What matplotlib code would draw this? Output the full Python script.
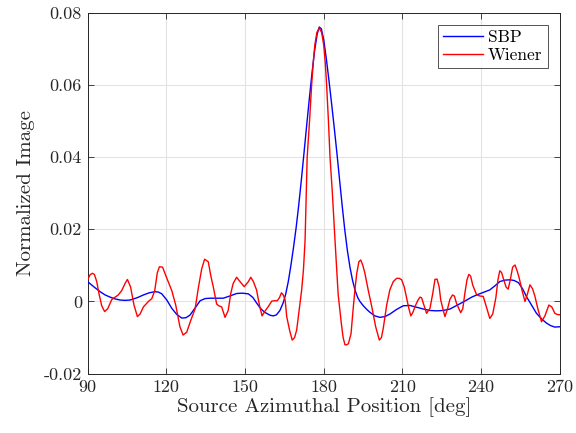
import numpy as np
import matplotlib
matplotlib.use("Agg")
import matplotlib.pyplot as plt

plt.rcParams["font.family"] = ["cmr10", "DejaVu Serif"]
plt.rcParams["axes.unicode_minus"] = False
plt.rcParams["axes.formatter.use_mathtext"] = True

# SBP (blue) - angle [deg], normalized image
sbp_deg = [90, 92.5, 94.8, 96.7, 98.6, 100.5, 102.4, 104.3, 106.2, 108.8, 111.3, 113.5,
           115.7, 117.0, 118.3, 120.2, 122.1, 124.0, 125.9, 127.5, 129.0, 131.0, 132.9,
           134.8, 136.7, 139.2, 141.7, 144.2, 146.8, 149.0, 151.3, 153.0, 154.5, 156.0,
           157.5, 159.5, 160.8, 162.0, 163.3, 164.6, 165.5, 166.5, 167.5, 168.5, 169.5,
           170.5, 171.5, 172.5, 173.5, 174.5, 175.5, 176.5, 177.5, 178.3, 179.1, 180.0,
           181.0, 182.0, 183.0, 184.0, 185.0, 186.0, 187.0, 188.0, 189.0, 190.0, 191.0,
           192.0, 193.0, 193.8, 195.1, 196.4, 197.6, 199.5, 201.4, 203.3, 205.2, 207.8,
           210.3, 212.8, 215.4, 218.0, 220.5, 223.0, 225.5, 228.1, 229.4, 232.0, 234.5,
           236.4, 238.3, 240.8, 243.3, 245.2, 247.1, 249.0, 251.0, 252.6, 254.2, 255.8,
           257.3, 259.2, 261.1, 263.0, 264.9, 266.5, 268.1, 270.0]
sbp_val = [0.0055, 0.0040, 0.0027, 0.0018, 0.0012, 0.0007, 0.0004, 0.0003, 0.0004, 0.0010, 0.0018, 0.0024,
           0.0027, 0.0026, 0.0021, 0.0004, -0.0019, -0.0036, -0.0046, -0.0045, -0.0038, -0.0018, 0.0002,
           0.0008, 0.0009, 0.0009, 0.0009, 0.0015, 0.0022, 0.0023, 0.0021, 0.0011, -0.0005, -0.0020,
           -0.0030, -0.0038, -0.0040, -0.0037, -0.0025, -0.0003, 0.0020, 0.0055, 0.0100, 0.0150, 0.0205,
           0.0268, 0.0338, 0.0412, 0.0487, 0.0560, 0.0630, 0.0693, 0.0740, 0.0760, 0.0755, 0.0725,
           0.0672, 0.0612, 0.0548, 0.0482, 0.0413, 0.0340, 0.0268, 0.0200, 0.0142, 0.0095, 0.0058,
           0.0030, 0.0010, 0.0000, -0.0012, -0.0022, -0.0030, -0.0040, -0.0044, -0.0042, -0.0035, -0.0022,
           -0.0012, -0.0011, -0.0016, -0.0021, -0.0025, -0.0026, -0.0025, -0.0021, -0.0016, -0.0006, 0.0004,
           0.0012, 0.0018, 0.0025, 0.0032, 0.0043, 0.0055, 0.0059, 0.0060, 0.0058, 0.0052, 0.0035,
           0.0013, -0.0010, -0.0033, -0.0048, -0.0060, -0.0067, -0.0071, -0.0070]

# Wiener (red) - angle [deg], normalized image
wiener_deg = [90, 91.0, 91.8, 92.6, 93.5, 94.4, 95.4, 96.5, 97.7, 99.2, 100.5, 101.7, 103.0,
              104.3, 105.2, 106.4, 107.7, 109.0, 110.0, 111.3, 113.2, 114.5, 115.6, 116.6,
              117.4, 118.6, 119.9, 121.0, 122.1, 123.6, 125.2, 126.4, 127.8, 129.4, 131.0,
              132.3, 133.5, 134.6, 136.0, 137.0, 137.9, 139.2, 140.0, 141.1, 142.4, 143.6,
              144.6, 145.5, 146.8, 148.1, 149.7, 151.3, 152.2, 153.2, 154.4, 155.5, 156.5,
              157.6, 158.9, 160.2, 161.4, 162.3, 163.1, 163.9, 164.6, 165.3, 165.9, 167.0,
              168.0, 168.9, 169.7, 170.7, 171.6, 172.3, 172.9, 173.7, 174.6, 175.4, 176.0,
              176.6, 177.4, 178.3, 179.2, 180.0, 180.6, 181.1, 181.8, 182.4, 183.3, 184.3,
              185.5, 186.7, 187.4, 188.1, 188.8, 189.4, 190.4, 191.3, 192.0, 192.6, 193.4,
              194.1, 194.9, 195.7, 197.0, 198.3, 199.8, 201.2, 202.0, 202.7, 204.0, 205.2,
              206.5, 207.8, 208.8, 209.7, 210.7, 211.6, 212.4, 213.2, 214.0, 214.8, 215.8,
              216.7, 217.3, 218.2, 219.2, 220.5, 221.5, 222.4, 223.2, 224.0, 224.6, 225.4,
              226.2, 227.2, 228.1, 229.1, 229.8, 230.6, 231.4, 232.2, 233.0, 233.8, 234.6,
              235.3, 236.0, 236.8, 238.3, 239.6, 240.8, 242.0, 243.3, 244.4, 245.6, 246.4,
              247.1, 247.8, 248.6, 249.5, 250.3, 251.1, 252.0, 252.9, 253.7, 254.5, 255.6,
              256.7, 257.6, 258.6, 259.6, 260.5, 261.6, 263.0, 264.3, 265.8, 266.9, 268.1,
              269.0, 270.0]
wiener_val = [0.0060, 0.0074, 0.0078, 0.0075, 0.0055, 0.0020, -0.0012, -0.0028, -0.0020, 0.0005, 0.0012, 0.0018, 0.0030,
              0.0050, 0.0061, 0.0040, -0.0010, -0.0042, -0.0035, -0.0015, 0.0000, 0.0008, 0.0030, 0.0080,
              0.0096, 0.0095, 0.0070, 0.0050, 0.0030, -0.0010, -0.0070, -0.0093, -0.0085, -0.0051, -0.0020,
              0.0041, 0.0090, 0.0117, 0.0110, 0.0070, 0.0041, -0.0007, -0.0012, -0.0015, -0.0044, -0.0025,
              0.0023, 0.0050, 0.0067, 0.0055, 0.0041, 0.0055, 0.0067, 0.0055, 0.0032, -0.0010, -0.0040,
              -0.0027, -0.0014, 0.0001, 0.0002, 0.0002, 0.0010, 0.0024, 0.0018, 0.0004, -0.0042, -0.0080,
              -0.0107, -0.0100, -0.0079, -0.0020, 0.0032, 0.0090, 0.0170, 0.0400, 0.0500, 0.0600, 0.0660,
              0.0710, 0.0745, 0.0757, 0.0745, 0.0710, 0.0660, 0.0600, 0.0500, 0.0400, 0.0300, 0.0170,
              0.0020, -0.0060, -0.0100, -0.0120, -0.0120, -0.0117, -0.0090, -0.0014, 0.0040, 0.0078, 0.0110,
              0.0115, 0.0100, 0.0078, 0.0030, -0.0014, -0.0070, -0.0107, -0.0100, -0.0074, -0.0010, 0.0032,
              0.0055, 0.0064, 0.0064, 0.0060, 0.0040, 0.0009, -0.0018, -0.0040, -0.0030, -0.0014, 0.0002,
              0.0012, 0.0010, -0.0010, -0.0033, -0.0019, 0.0020, 0.0061, 0.0062, 0.0040, 0.0004, -0.0020,
              -0.0042, -0.0020, 0.0006, 0.0018, 0.0015, -0.0005, -0.0018, -0.0031, -0.0020, 0.0023, 0.0060,
              0.0075, 0.0070, 0.0045, 0.0018, 0.0015, 0.0014, -0.0015, -0.0047, -0.0035, 0.0010, 0.0060,
              0.0085, 0.0080, 0.0060, 0.0040, 0.0034, 0.0060, 0.0095, 0.0101, 0.0085, 0.0065, 0.0030,
              0.0000, 0.0020, 0.0046, 0.0035, 0.0014, -0.0020, -0.0056, -0.0040, -0.0010, -0.0015, -0.0033,
              -0.0036, -0.0037]

xticks = [90, 120, 150, 180, 210, 240, 270]
yticks = [-0.02, 0, 0.02, 0.04, 0.06, 0.08]
ytick_labels = ["-0.02", "0", "0.02", "0.04", "0.06", "0.08"]

fig = plt.figure(figsize=(5.76, 4.33), dpi=100)
ax = fig.add_axes([0.152, 0.137, 0.820, 0.834])

ax.plot(sbp_deg, sbp_val, color="#0000ff", lw=1.0, label="SBP", zorder=3)
ax.plot(wiener_deg, wiener_val, color="#ff0000", lw=1.0, label="Wiener", zorder=3)

ax.set_xlim(90, 270)
ax.set_ylim(-0.02, 0.08)
ax.set_xticks(xticks)
ax.set_xticklabels([str(t) for t in xticks])
ax.set_yticks(yticks)
ax.set_yticklabels(ytick_labels)
ax.tick_params(direction="in", top=True, right=True, length=4, width=0.6,
               color="#262626", labelsize=13, labelcolor="#262626", pad=4)
ax.grid(True, color="#e3e3e3", lw=0.8, zorder=0)
ax.set_axisbelow(True)
for sp in ax.spines.values():
    sp.set_color("#262626")
    sp.set_linewidth(0.7)

ax.set_xlabel("Source Azimuthal Position [deg]", fontsize=15, color="#262626", labelpad=2)
ax.set_ylabel("Normalized Image", fontsize=15, color="#262626", labelpad=6)

leg = ax.legend(loc="upper right", fontsize=12.5, frameon=True, fancybox=False,
                edgecolor="#262626", handlelength=2.3, handletextpad=0.3,
                borderpad=0.3, labelspacing=0.15, borderaxespad=0.7)
leg.get_frame().set_linewidth(0.7)

fig.savefig("out.png", dpi=100)
